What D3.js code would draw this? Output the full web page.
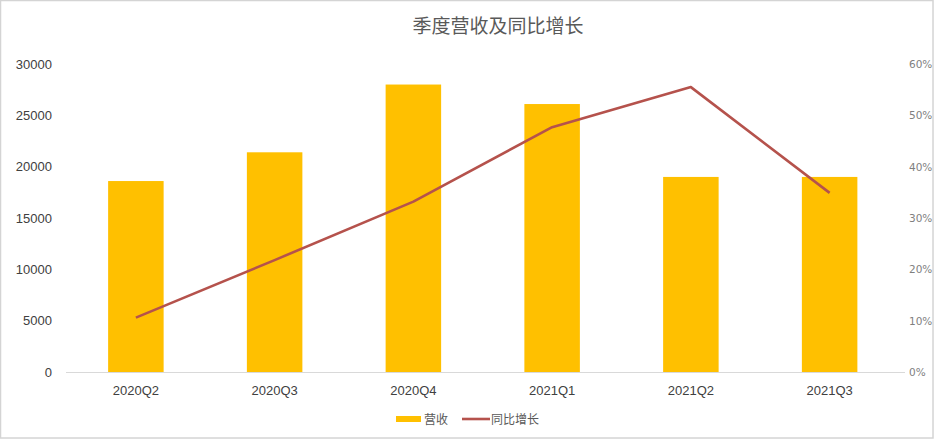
<!DOCTYPE html>
<html>
<head>
<meta charset="utf-8">
<script src="https://cdn.jsdelivr.net/npm/d3@7"></script>
<style>
html,body{margin:0;padding:0;background:#fff;}
svg{display:block;}
</style>
</head>
<body>
<svg id="chart" width="934" height="440"></svg>
<script>
const categories = ["2020Q2","2020Q3","2020Q4","2021Q1","2021Q2","2021Q3"];
const revenue = [18600, 21400, 28000, 26100, 19000, 19000];
const growth = [0.106, 0.218, 0.332, 0.477, 0.555, 0.349];
const leftTicks = [0,5000,10000,15000,20000,25000,30000];
const rightTicks = [0,0.1,0.2,0.3,0.4,0.5,0.6];
const title = "季度营收及同比增长";
const seriesNames = ["营收","同比增长"];

const W = 934, H = 440;
const svg = d3.select("#chart");
const font = "'Liberation Sans', Arial, 'Noto Sans CJK SC', sans-serif";
const cjk = "'Noto Sans CJK SC', sans-serif";

// frame
svg.append("rect").attr("x",0.5).attr("y",0.5).attr("width",W-1.5).attr("height",H-2.5)
  .attr("fill","#fff").attr("stroke","#d4d4d4").attr("stroke-width",1.5);

const x = d3.scaleBand().domain(categories).range([66.5, 899]).paddingInner(0.6).paddingOuter(0.3);
const yL = d3.scaleLinear().domain([0,30000]).range([372,64]);
const yR = d3.scaleLinear().domain([0,0.6]).range([372,64]);

// title
svg.append("text").attr("x",498).attr("y",33).attr("text-anchor","middle")
  .attr("font-family",cjk).attr("font-size",19).attr("fill","#595959").text(title);

// bars
svg.append("g").selectAll("rect").data(categories).join("rect")
  .attr("x",d=>x(d)).attr("width",x.bandwidth())
  .attr("y",(d,i)=>yL(revenue[i])).attr("height",(d,i)=>yL(0)-yL(revenue[i]))
  .attr("fill","#FFC000");

// baseline axis
const xAxis = d3.axisBottom(x).tickSize(0).tickPadding(14);
const gx = svg.append("g").attr("transform","translate(0,372)").call(xAxis);
gx.select(".domain").remove();
gx.selectAll("text").attr("font-family",font).attr("font-size",13).attr("fill","#404040");
svg.append("line").attr("x1",66).attr("x2",905).attr("y1",372.5).attr("y2",372.5)
  .attr("stroke","#d9d9d9").attr("stroke-width",1);

// left axis
const gl = svg.append("g").attr("transform","translate(52,0)")
  .call(d3.axisLeft(yL).tickValues(leftTicks).tickSize(0).tickPadding(0).tickFormat(d3.format("d")));
gl.select(".domain").remove();
gl.selectAll("text").attr("font-family",font).attr("font-size",13).attr("fill","#404040");

// right axis
const gr = svg.append("g").attr("transform","translate(909,0)")
  .call(d3.axisRight(yR).tickValues(rightTicks).tickSize(0).tickPadding(0).tickFormat(d3.format(".0%")));
gr.select(".domain").remove();
gr.selectAll("text").attr("font-family","'DejaVu Sans', sans-serif").attr("font-size",10.5).attr("fill","#7f7f7f");

// line
const line = d3.line().x((d,i)=>x(categories[i])+x.bandwidth()/2).y(d=>yR(d));
svg.append("path").datum(growth).attr("d",line).attr("fill","none")
  .attr("stroke","#B5524C").attr("stroke-width",2.6).attr("stroke-linejoin","round");

// legend
const lg = svg.append("g");
lg.append("rect").attr("x",396).attr("y",416).attr("width",25).attr("height",6).attr("fill","#FFC000");
lg.append("text").attr("x",424).attr("y",423.5).attr("font-family",cjk).attr("font-size",12)
  .attr("fill","#595959").text(seriesNames[0]);
lg.append("line").attr("x1",462).attr("x2",490).attr("y1",419).attr("y2",419)
  .attr("stroke","#B5524C").attr("stroke-width",2.6);
lg.append("text").attr("x",491).attr("y",423.5).attr("font-family",cjk).attr("font-size",12)
  .attr("fill","#595959").text(seriesNames[1]);
</script>
</body>
</html>
